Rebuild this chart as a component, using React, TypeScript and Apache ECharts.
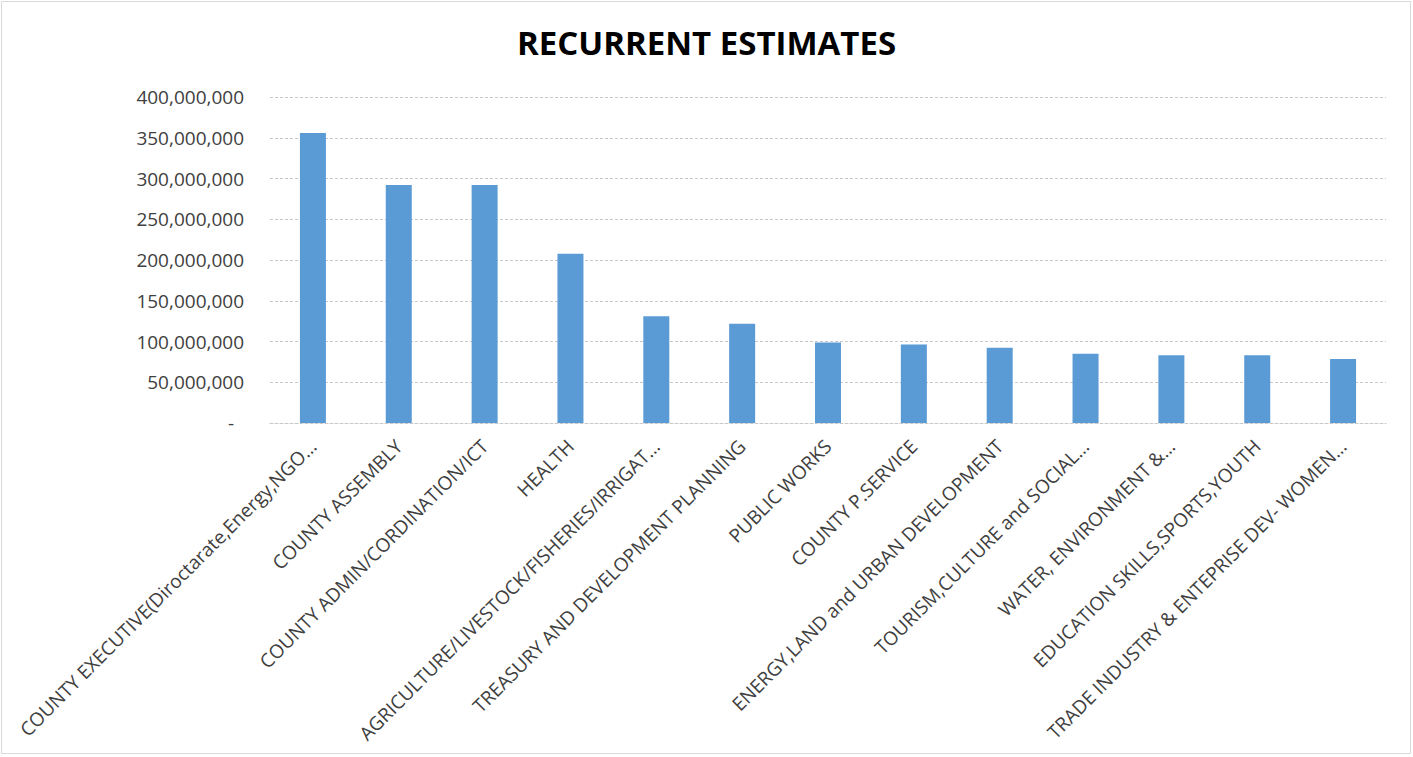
import React, { useEffect, useRef } from "react";
import * as echarts from "echarts";

const title = "RECURRENT ESTIMATES";

const categories = [
  "COUNTY EXECUTIVE(Diroctarate,Energy,NGO…",
  "COUNTY ASSEMBLY",
  "COUNTY ADMIN/CORDINATION/ICT",
  "HEALTH",
  "AGRICULTURE/LIVESTOCK/FISHERIES/IRRIGAT…",
  "TREASURY AND DEVELOPMENT PLANNING",
  "PUBLIC WORKS",
  "COUNTY P.SERVICE",
  "ENERGY,LAND and URBAN DEVELOPMENT",
  "TOURISM,CULTURE and SOCIAL…",
  "WATER, ENVIRONMENT &…",
  "EDUCATION SKILLS,SPORTS,YOUTH",
  "TRADE INDUSTRY & ENTEPRISE DEV- WOMEN…",
];

const values = [
  355700000, 292000000, 292000000, 207800000, 131000000, 121800000, 98800000,
  96300000, 92200000, 85000000, 83000000, 83000000, 78500000,
];

const yTicks = { min: 0, max: 400000000, interval: 50000000 };

export default function App() {
  const ref = useRef<HTMLDivElement>(null);
  useEffect(() => {
    if (!ref.current) return;
    const chart = echarts.init(ref.current, undefined, { renderer: "svg" });
    const font = "'Open Sans', 'Noto Sans', sans-serif";
    chart.setOption({
      animation: false,
      backgroundColor: "#ffffff",
      title: {
        text: title,
        left: "center",
        top: 21,
        textStyle: {
          fontFamily: font,
          fontSize: 33,
          fontWeight: "bold",
          color: "#000000",
        },
      },
      graphic: [
        {
          type: "rect",
          shape: { x: 1.5, y: 1.5, width: 1409, height: 752 },
          style: { fill: "none", stroke: "#d9d9d9", lineWidth: 1 },
          silent: true,
        },
      ],
      grid: { left: 270, right: 27, top: 97, bottom: 334, containLabel: false },
      xAxis: {
        type: "category",
        data: categories,
        axisLine: {
          show: true,
          lineStyle: { color: "#c8c8c8", type: [3, 2], width: 1 },
        },
        axisTick: { show: false },
        axisLabel: {
          interval: 0,
          rotate: 45,
          margin: 20,
          fontFamily: font,
          fontSize: 19,
          color: "#404040",
        },
      },
      yAxis: {
        type: "value",
        min: yTicks.min,
        max: yTicks.max,
        interval: yTicks.interval,
        axisLine: { show: false },
        axisTick: { show: false },
        splitLine: {
          show: true,
          lineStyle: { color: "#c8c8c8", type: [3, 2], width: 1 },
        },
        axisLabel: {
          margin: 26,
          fontFamily: font,
          fontSize: 19,
          color: "#404040",
          formatter: (v: number) => (v === 0 ? "-  " : v.toLocaleString("en-US")),
        },
      },
      series: [
        {
          type: "bar",
          data: values,
          barWidth: 26,
          itemStyle: { color: "#5b9bd5" },
        },
      ],
    });
    return () => chart.dispose();
  }, []);
  return (
    <div
      ref={ref}
      style={{ position: "absolute", left: 0, top: 0, width: 1413, height: 757 }}
    />
  );
}
